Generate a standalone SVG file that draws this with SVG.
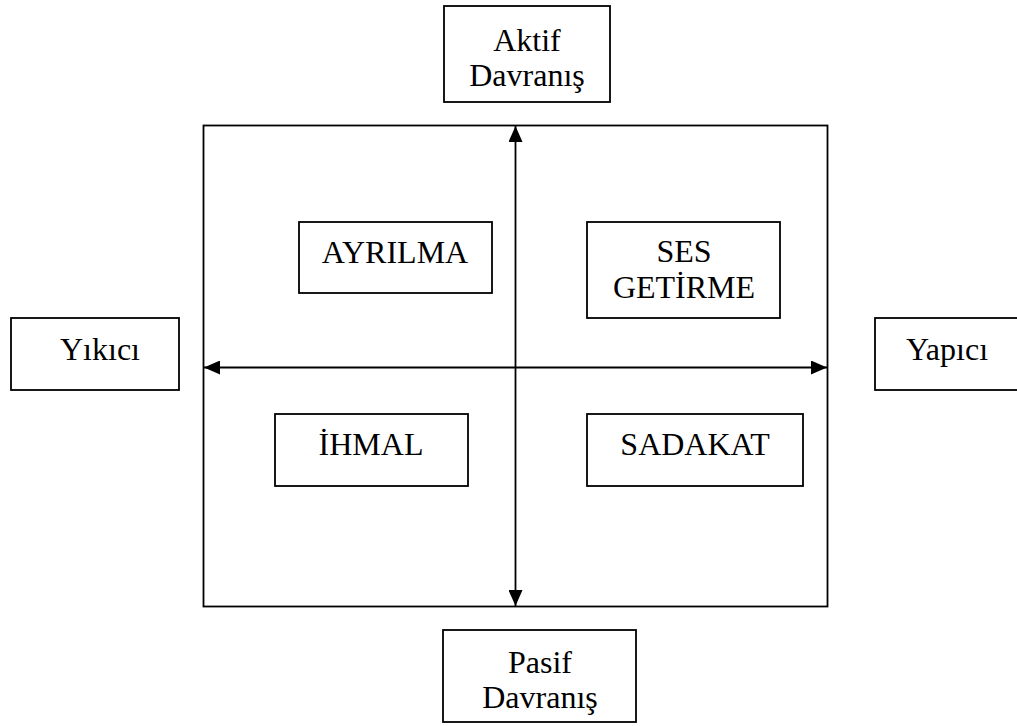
<svg xmlns="http://www.w3.org/2000/svg" width="1017" height="726" viewBox="0 0 1017 726">
<style>
  .box { fill: #fff; stroke: #000; stroke-width: 1.8; }
  .frame { fill: none; stroke: #000; stroke-width: 1.8; }
  .axis { stroke: #000; stroke-width: 1.8; fill: none; }
  text { font-family: "Liberation Serif", "Times New Roman", serif; font-size: 32px; fill: #000; text-anchor: middle; }
</style>
<defs>
  <marker id="arr" viewBox="0 0 16 14" refX="16" refY="7" markerWidth="16" markerHeight="14" markerUnits="userSpaceOnUse" orient="auto-start-reverse">
    <path d="M0,0 L16,7 L0,14 Z" fill="#000"/>
  </marker>
</defs>
<rect id="frame" class="frame" x="203.5" y="125.5" width="624" height="481"/>
<g id="connectors">
  <line class="axis" x1="515.5" y1="126" x2="515.5" y2="606" marker-start="url(#arr)" marker-end="url(#arr)"/>
  <line class="axis" x1="204" y1="367.5" x2="827" y2="367.5" marker-start="url(#arr)" marker-end="url(#arr)"/>
</g>
<g id="aktif">
  <rect class="box" x="444" y="6" width="166" height="96"/>
  <text x="527" y="51">Aktif</text>
  <text x="527" y="86">Davranış</text>
</g>
<g id="pasif">
  <rect class="box" x="443" y="630" width="193" height="92"/>
  <text x="540" y="673">Pasif</text>
  <text x="540" y="708">Davranış</text>
</g>
<g id="yikici">
  <rect class="box" x="11" y="318" width="168" height="72"/>
  <text x="100" y="360">Yıkıcı</text>
</g>
<g id="yapici">
  <rect class="box" x="875" y="318" width="170" height="72"/>
  <text x="947" y="360">Yapıcı</text>
</g>
<g id="ayrilma">
  <rect class="box" x="299" y="222" width="193" height="71"/>
  <text x="395" y="263">AYRILMA</text>
</g>
<g id="ses-getirme">
  <rect class="box" x="587" y="222" width="193" height="96"/>
  <text x="684" y="262">SES</text>
  <text x="684" y="298">GETİRME</text>
</g>
<g id="ihmal">
  <rect class="box" x="275" y="414" width="193" height="72"/>
  <text x="371" y="455">İHMAL</text>
</g>
<g id="sadakat">
  <rect class="box" x="587" y="414" width="216" height="72"/>
  <text x="695" y="455">SADAKAT</text>
</g>
</svg>
